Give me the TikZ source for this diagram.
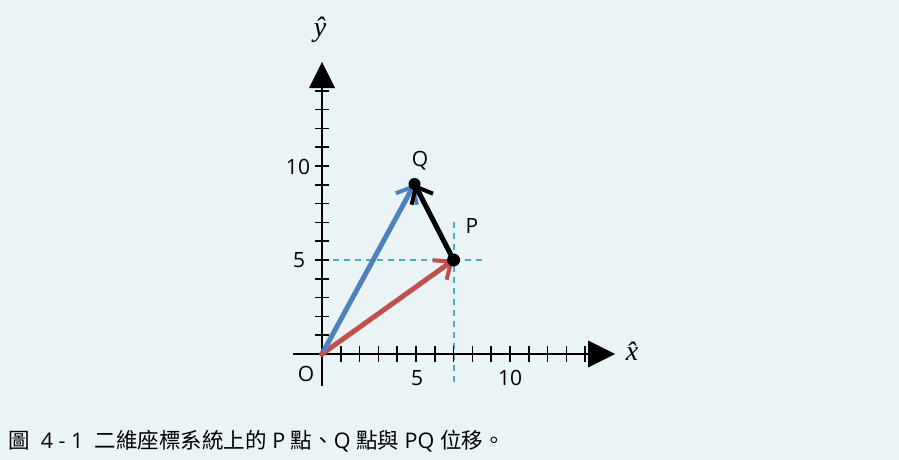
\documentclass[tikz,border=0pt]{standalone}
\usepackage{fontspec}
\setmainfont{Open Sans}
\newfontfamily\cjkfont{Noto Sans CJK TC}
\newfontfamily\mathserif{Liberation Serif}
\usetikzlibrary{arrows.meta}
\definecolor{bgc}{HTML}{EAF3F6}
\definecolor{vred}{HTML}{C0504D}
\definecolor{vblue}{HTML}{4F81BD}
\definecolor{dashc}{HTML}{4BACC6}
\tikzset{
  axisline/.style={line width=2pt, black},
  tickmark/.style={line width=1.6pt, black},
  vec/.style={line width=5pt, line cap=round, -{Straight Barb[length=14pt,width=24pt,line width=4pt]}},
  guide/.style={dashc, line width=1.5pt, dash pattern=on 6pt off 5pt},
  lbl/.style={font=\fontsize{21}{23}\selectfont, inner sep=0pt},
  hatlbl/.style={font=\fontsize{28}{30}\selectfont\mathserif\itshape, inner sep=0pt},
  dot/.style={circle, fill=black, inner sep=0pt, minimum size=13pt}
}
\begin{document}
\begin{tikzpicture}[x=1pt,y=-1pt]
\fill[bgc] (0,0) rectangle (899,460);
\useasboundingbox (0,0) rectangle (899,460);
% key coordinates (px)
\coordinate (O) at (322,354);
\coordinate (P) at (453.6,260);
\coordinate (Q) at (414.5,184);
\coordinate (xL) at (293,354);
\coordinate (xR) at (592,354);
\coordinate (yB) at (322,386);
\coordinate (yT) at (322,84);
\coordinate (gh1) at (322,260);
\coordinate (gh2) at (486,260);
\coordinate (gv1) at (454,222);
\coordinate (gv2) at (454,386);
% guides
\draw[guide] (gh1) -- (gh2);
\draw[guide] (gv1) -- (gv2);
% axes
\draw[axisline] (xL) -- (xR);
\draw[axisline] (yB) -- (yT);
\fill[black] (588,340.5) -- (615,354) -- (588,367.5) -- cycle;
\fill[black] (309,88) -- (322,62) -- (335,88) -- cycle;
\foreach \i in {1,...,14}{
  \draw[tickmark] (322+\i*18.8,346) -- (322+\i*18.8,362);
  \draw[tickmark] (315,354-\i*18.8) -- (329,354-\i*18.8);
}
% vectors
\draw[vec, vred] (O) -- (P);
\draw[vec, vblue] (O) -- (Q);
\draw[vec, black] (P) -- (Q);
\node[dot] (Pd) at (P) {};
\node[dot, minimum size=12pt] (Qd) at (Q) {};
\fill[vred] (O) circle (3pt);
% labels
\node[lbl] (l10y) at (298,167) {10};
\node[lbl] (l5y) at (299,260) {5};
\node[lbl] (lO) at (306,374) {O};
\node[lbl] (l5x) at (417,378) {5};
\node[lbl] (l10x) at (510,378) {10};
\node[lbl] (lQ) at (420,161) {Q};
\node[lbl] (lP) at (472,226) {P};
\node[hatlbl] (lyh) at (320,30) {\^{y}};
\node[hatlbl] (lxh) at (632,351) {\^{x}};
% caption
\node[anchor=west, inner sep=0pt, font=\fontsize{21.5}{23}\selectfont] (cap) at (8,441)
 {{\cjkfont 圖}\ \ 4 - 1\ \ {\cjkfont 二維座標系統上的} P {\cjkfont 點、}Q {\cjkfont 點與} PQ {\cjkfont 位移。}};
\end{tikzpicture}
\end{document}
